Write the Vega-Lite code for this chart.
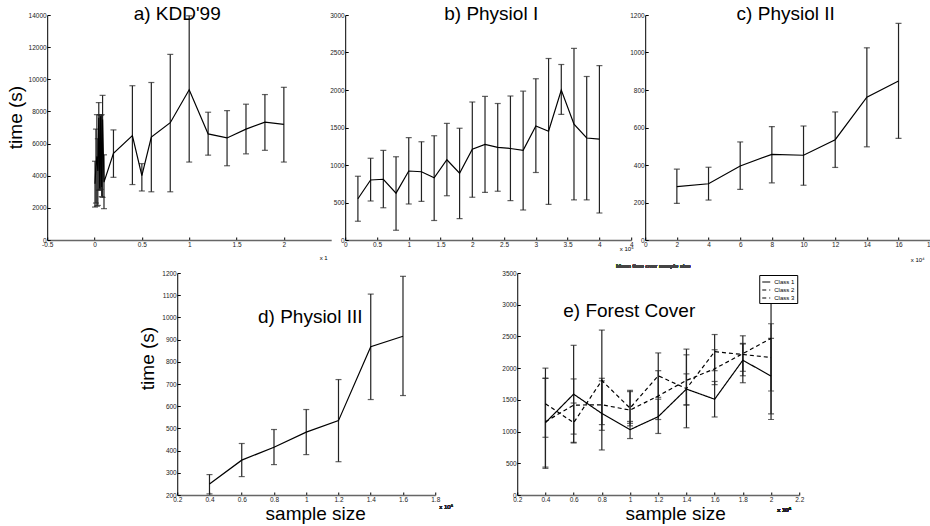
{
  "$schema": "https://vega.github.io/schema/vega-lite/v6.json",
  "background": "white",
  "padding": {"left": 6, "top": 5, "right": 0, "bottom": 0},
  "config": {
    "font": "Liberation Sans",
    "view": {"stroke": null},
    "axis": {"grid": false, "labelFontSize": 6.5, "labelColor": "#222", "tickSize": -3, "tickColor": "#000", "domainColor": "#000", "labelPadding": 4, "titleFontWeight": "normal", "titleColor": "#000", "labelFlush": false, "labelOverlap": false, "labelExpr": "'' + datum.value"},
    "axisX": {"domainColor": "#666", "domainWidth": 1.5},
    "title": {"fontSize": 19, "fontWeight": "normal", "color": "#000", "anchor": "middle"},
    "line": {"color": "#000", "strokeWidth": 1.2},
    "text": {"font": "Liberation Sans"}
  },
  "datasets": {
    "kdd": [
      {"x": 0.005, "m": 3500, "lo": 2050, "hi": 4900},
      {"x": 0.015, "m": 4600, "lo": 2300, "hi": 6900},
      {"x": 0.025, "m": 5200, "lo": 2100, "hi": 7800},
      {"x": 0.035, "m": 4300, "lo": 2150, "hi": 6300},
      {"x": 0.045, "m": 7600, "lo": 3100, "hi": 8550},
      {"x": 0.055, "m": 3200, "lo": 3100, "hi": 7800},
      {"x": 0.065, "m": 7700, "lo": 3150, "hi": 7750},
      {"x": 0.075, "m": 3300, "lo": 2700, "hi": 7800},
      {"x": 0.085, "m": 7500, "lo": 2650, "hi": 9000},
      {"x": 0.1, "m": 3600, "lo": 1950, "hi": 5300},
      {"x": 0.2, "m": 5400, "lo": 3900, "hi": 6850},
      {"x": 0.4, "m": 6500, "lo": 3450, "hi": 9600},
      {"x": 0.5, "m": 4000, "lo": 3050, "hi": 4750},
      {"x": 0.6, "m": 6400, "lo": 3000, "hi": 9800},
      {"x": 0.8, "m": 7300, "lo": 3000, "hi": 11550},
      {"x": 1.0, "m": 9350, "lo": 4850, "hi": 13950},
      {"x": 1.2, "m": 6600, "lo": 5280, "hi": 7950},
      {"x": 1.4, "m": 6350, "lo": 4620, "hi": 8050},
      {"x": 1.6, "m": 6900, "lo": 5360, "hi": 8450},
      {"x": 1.8, "m": 7330, "lo": 5580, "hi": 9050},
      {"x": 2.0, "m": 7200, "lo": 4850, "hi": 9500}
    ],
    "p1": [
      {"x": 0.2, "m": 550, "lo": 250, "hi": 850},
      {"x": 0.4, "m": 800, "lo": 520, "hi": 1090},
      {"x": 0.6, "m": 810, "lo": 430, "hi": 1195},
      {"x": 0.8, "m": 625, "lo": 130, "hi": 1110},
      {"x": 1.0, "m": 920, "lo": 480, "hi": 1365},
      {"x": 1.2, "m": 910, "lo": 515, "hi": 1310},
      {"x": 1.4, "m": 830, "lo": 260, "hi": 1390},
      {"x": 1.6, "m": 1070, "lo": 590, "hi": 1555},
      {"x": 1.8, "m": 890, "lo": 285, "hi": 1490},
      {"x": 2.0, "m": 1210, "lo": 570, "hi": 1840},
      {"x": 2.2, "m": 1275, "lo": 635, "hi": 1915},
      {"x": 2.4, "m": 1235, "lo": 650, "hi": 1820},
      {"x": 2.6, "m": 1220, "lo": 525, "hi": 1920},
      {"x": 2.8, "m": 1195, "lo": 400, "hi": 1985},
      {"x": 3.0, "m": 1520, "lo": 900, "hi": 2150},
      {"x": 3.2, "m": 1450, "lo": 475, "hi": 2420},
      {"x": 3.4, "m": 2000, "lo": 1675, "hi": 2340},
      {"x": 3.6, "m": 1545, "lo": 535, "hi": 2555},
      {"x": 3.8, "m": 1360, "lo": 535, "hi": 2180},
      {"x": 4.0, "m": 1345, "lo": 360, "hi": 2325}
    ],
    "p2": [
      {"x": 2, "m": 285, "lo": 195, "hi": 378},
      {"x": 4, "m": 300, "lo": 213, "hi": 388},
      {"x": 6, "m": 395, "lo": 270, "hi": 523},
      {"x": 8, "m": 457, "lo": 305, "hi": 605},
      {"x": 10, "m": 452, "lo": 292, "hi": 608},
      {"x": 12, "m": 535, "lo": 387, "hi": 683},
      {"x": 14, "m": 762, "lo": 497, "hi": 1025},
      {"x": 16, "m": 848, "lo": 542, "hi": 1155}
    ],
    "p3": [
      {"x": 0.4, "m": 250, "lo": 205, "hi": 292},
      {"x": 0.6, "m": 357, "lo": 283, "hi": 432},
      {"x": 0.8, "m": 415, "lo": 337, "hi": 495},
      {"x": 1.0, "m": 483, "lo": 382, "hi": 585},
      {"x": 1.2, "m": 535, "lo": 350, "hi": 720},
      {"x": 1.4, "m": 868, "lo": 630, "hi": 1105},
      {"x": 1.6, "m": 915, "lo": 648, "hi": 1185}
    ],
    "fc": [
      {"x": 0.4, "c": "Class 1", "m": 1140, "lo": 440, "hi": 1840},
      {"x": 0.6, "c": "Class 1", "m": 1590, "lo": 820, "hi": 2360},
      {"x": 0.8, "c": "Class 1", "m": 1285, "lo": 710, "hi": 1840},
      {"x": 1.0, "c": "Class 1", "m": 1030, "lo": 890, "hi": 1160},
      {"x": 1.2, "c": "Class 1", "m": 1235, "lo": 970, "hi": 1510},
      {"x": 1.4, "c": "Class 1", "m": 1670, "lo": 1060, "hi": 2300},
      {"x": 1.6, "c": "Class 1", "m": 1510, "lo": 1230, "hi": 1790},
      {"x": 1.8, "c": "Class 1", "m": 2125, "lo": 1770, "hi": 2510},
      {"x": 2.0, "c": "Class 1", "m": 1875, "lo": 1280, "hi": 2470},
      {"x": 0.4, "c": "Class 2", "m": 1440, "lo": 910, "hi": 2000},
      {"x": 0.6, "c": "Class 2", "m": 1140, "lo": 830, "hi": 1450},
      {"x": 0.8, "c": "Class 2", "m": 1805, "lo": 1020, "hi": 2600},
      {"x": 1.0, "c": "Class 2", "m": 1370, "lo": 1130, "hi": 1650},
      {"x": 1.2, "c": "Class 2", "m": 1880, "lo": 1540, "hi": 2240},
      {"x": 1.4, "c": "Class 2", "m": 1677, "lo": 1420, "hi": 1910},
      {"x": 1.6, "c": "Class 2", "m": 2260, "lo": 1960, "hi": 2530},
      {"x": 1.8, "c": "Class 2", "m": 2215, "lo": 1950, "hi": 2380},
      {"x": 2.0, "c": "Class 2", "m": 2167, "lo": 1640, "hi": 2700},
      {"x": 0.4, "c": "Class 3", "m": 1156, "lo": 420, "hi": 1840},
      {"x": 0.6, "c": "Class 3", "m": 1417, "lo": 960, "hi": 1830},
      {"x": 0.8, "c": "Class 3", "m": 1422, "lo": 1110, "hi": 1800},
      {"x": 1.0, "c": "Class 3", "m": 1339, "lo": 1090, "hi": 1630},
      {"x": 1.2, "c": "Class 3", "m": 1562, "lo": 1190, "hi": 1960},
      {"x": 1.4, "c": "Class 3", "m": 1807, "lo": 1420, "hi": 2210},
      {"x": 1.6, "c": "Class 3", "m": 1990, "lo": 1740, "hi": 2290},
      {"x": 1.8, "c": "Class 3", "m": 2229, "lo": 1880, "hi": 2390},
      {"x": 2.0, "c": "Class 3", "m": 2469, "lo": 1190, "hi": 3450}
    ]
  },
  "vconcat": [
    {
      "bounds": "flush",
      "spacing": 14,
      "hconcat": [
        {
          "width": 284, "height": 225,
          "title": {"text": "a) KDD'99", "offset": -12, "dx": -12},
          "data": {"name": "kdd"},
          "encoding": {"x": {"field": "x", "type": "quantitative", "scale": {"domain": [-0.5, 2.5], "nice": false, "zero": false},
            "axis": {"values": [-0.5, 0, 0.5, 1, 1.5, 2], "labelOverlap": false, "title": "x 1", "titleFontSize": 6, "titleAlign": "center", "titleX": 276, "titlePadding": 7}}},
          "layer": [
            {"mark": {"type": "errorbar", "ticks": {"size": 6}, "color": "#222", "thickness": 1.2},
             "encoding": {"y": {"field": "lo", "type": "quantitative", "title": "time (s)", "scale": {"domain": [0, 14000], "nice": false},
               "axis": {"values": [0, 2000, 4000, 6000, 8000, 10000, 12000, 14000], "labelOverlap": false, "titleFontSize": 19, "titlePadding": 3, "titleY": 102}}, "y2": {"field": "hi"}}},
            {"mark": "line",
             "encoding": {"y": {"field": "m", "type": "quantitative", "title": "time (s)", "scale": {"domain": [0, 14000], "nice": false},
               "axis": {"values": [0, 2000, 4000, 6000, 8000, 10000, 12000, 14000], "labelOverlap": false, "titleFontSize": 19, "titlePadding": 3, "titleY": 102}}}}
          ]
        },
        {
          "width": 286, "height": 225,
          "title": {"text": "b) Physiol I", "offset": -12, "dx": 3},
          "data": {"name": "p1"},
          "encoding": {"x": {"field": "x", "type": "quantitative", "scale": {"domain": [0, 4.5], "nice": false, "zero": false},
            "axis": {"values": [0, 0.5, 1, 1.5, 2, 2.5, 3, 3.5, 4, 4.5], "labelOverlap": false, "labelExpr": "datum.value == 4.5 ? '4' : '' + datum.value", "title": "x 10⁵", "titleFontSize": 6, "titleAlign": "center", "titleX": 281, "titlePadding": -2}}},
          "layer": [
            {"mark": {"type": "errorbar", "ticks": {"size": 6}, "color": "#222", "thickness": 1.2},
             "encoding": {"y": {"field": "lo", "type": "quantitative", "title": null, "scale": {"domain": [0, 3000], "nice": false},
               "axis": {"values": [0, 500, 1000, 1500, 2000, 2500, 3000], "labelOverlap": false}}, "y2": {"field": "hi"}}},
            {"mark": "line",
             "encoding": {"y": {"field": "m", "type": "quantitative", "title": null, "scale": {"domain": [0, 3000], "nice": false},
               "axis": {"values": [0, 500, 1000, 1500, 2000, 2500, 3000], "labelOverlap": false}}}}
          ]
        },
        {
          "width": 285, "height": 225,
          "title": {"text": "c) Physiol II", "offset": -12, "dx": -2},
          "data": {"name": "p2"},
          "encoding": {"x": {"field": "x", "type": "quantitative", "scale": {"domain": [0, 18], "nice": false, "zero": false},
            "axis": {"values": [0, 2, 4, 6, 8, 10, 12, 14, 16, 18], "labelOverlap": false, "title": "x 10⁴", "titleFontSize": 6, "titleAlign": "center", "titleX": 272, "titlePadding": 9}}},
          "layer": [
            {"mark": {"type": "errorbar", "ticks": {"size": 6}, "color": "#222", "thickness": 1.2},
             "encoding": {"y": {"field": "lo", "type": "quantitative", "title": null, "scale": {"domain": [0, 1200], "nice": false},
               "axis": {"values": [0, 200, 400, 600, 800, 1000, 1200], "labelOverlap": false}}, "y2": {"field": "hi"}}},
            {"mark": "line",
             "encoding": {"y": {"field": "m", "type": "quantitative", "title": null, "scale": {"domain": [0, 1200], "nice": false},
               "axis": {"values": [0, 200, 400, 600, 800, 1000, 1200], "labelOverlap": false}}}}
          ]
        }
      ]
    },
    {
      "bounds": "flush",
      "spacing": 82,
      "resolve": {"scale": {"strokeDash": "independent"}, "legend": {"strokeDash": "independent"}},
      "hconcat": [
        {
          "width": 258, "height": 222,
          "title": {"text": "d) Physiol III", "offset": -57, "dx": 4},
          "data": {"name": "p3"},
          "encoding": {"x": {"field": "x", "type": "quantitative", "scale": {"domain": [0.2, 1.8], "nice": false, "zero": false},
            "axis": {"values": [0.2, 0.4, 0.6, 0.8, 1, 1.2, 1.4, 1.6, 1.8], "labelOverlap": false, "title": "sample size", "titleFontSize": 19, "titlePadding": 2, "titleX": 138}}},
          "layer": [
            {"mark": {"type": "errorbar", "ticks": {"size": 6}, "color": "#222", "thickness": 1.2},
             "encoding": {"y": {"field": "lo", "type": "quantitative", "title": "time (s)", "scale": {"domain": [200, 1200], "nice": false, "zero": false},
               "axis": {"values": [200, 300, 400, 500, 600, 700, 800, 900, 1000, 1100, 1200], "labelOverlap": false, "titleFontSize": 19, "titlePadding": 4.5, "titleY": 85}}, "y2": {"field": "hi"}}},
            {"mark": "line",
             "encoding": {"y": {"field": "m", "type": "quantitative", "title": "time (s)", "scale": {"domain": [200, 1200], "nice": false, "zero": false},
               "axis": {"values": [200, 300, 400, 500, 600, 700, 800, 900, 1000, 1100, 1200], "labelOverlap": false, "titleFontSize": 19, "titlePadding": 4.5, "titleY": 85}}}},
            {"mark": {"type": "text", "fontSize": 6, "dx": 11, "dy": 12, "color": "#222"},
             "encoding": {"x": {"datum": 1.8, "type": "quantitative", "axis": {"values": [0.2, 0.4, 0.6, 0.8, 1, 1.2, 1.4, 1.6, 1.8], "labelOverlap": false, "title": "sample size", "titleFontSize": 19, "titlePadding": 2, "titleX": 138}},
               "y": {"datum": 200, "type": "quantitative", "title": "time (s)", "scale": {"domain": [200, 1200], "nice": false, "zero": false},
               "axis": {"values": [200, 300, 400, 500, 600, 700, 800, 900, 1000, 1100, 1200], "labelOverlap": false, "titleFontSize": 19, "titlePadding": 4.5, "titleY": 85}},
               "text": {"value": "x 10⁵"}}}
          ]
        },
        {
          "width": 282, "height": 222,
          "title": {"text": "e) Forest Cover", "offset": -58, "dx": -29},
          "data": {"name": "fc"},
          "encoding": {"x": {"field": "x", "type": "quantitative", "scale": {"domain": [0.2, 2.2], "nice": false, "zero": false},
            "axis": {"values": [0.2, 0.4, 0.6, 0.8, 1, 1.2, 1.4, 1.6, 1.8, 2, 2.2], "labelOverlap": false, "title": "sample size", "titleFontSize": 19, "titlePadding": 2, "titleX": 158}}},
          "layer": [
            {"mark": {"type": "errorbar", "ticks": {"size": 6}, "color": "#222", "thickness": 1.2},
             "encoding": {"y": {"field": "lo", "type": "quantitative", "title": null, "scale": {"domain": [0, 3500], "nice": false},
               "axis": {"values": [0, 500, 1000, 1500, 2000, 2500, 3000, 3500], "labelOverlap": false}}, "y2": {"field": "hi"}}},
            {"mark": "line",
             "encoding": {"y": {"field": "m", "type": "quantitative", "title": null, "scale": {"domain": [0, 3500], "nice": false},
               "axis": {"values": [0, 500, 1000, 1500, 2000, 2500, 3000, 3500], "labelOverlap": false}},
               "strokeDash": {"field": "c", "type": "nominal", "scale": {"domain": ["Class 1", "Class 2", "Class 3"], "range": [[1, 0], [4, 3], [4, 3]]},
                 "legend": {"orient": "top-right", "offset": 2, "title": null, "strokeColor": "#000", "fillColor": "white", "padding": 2, "labelFontSize": 6, "labelColor": "#000", "symbolType": "stroke", "symbolSize": 64, "symbolStrokeWidth": 1.2, "symbolStrokeColor": "#000", "rowPadding": -2, "labelOffset": 3}}}},
            {"mark": {"type": "text", "fontSize": 6, "dx": -15, "dy": 15, "color": "#222"},
             "encoding": {"x": {"datum": 2.2, "type": "quantitative", "axis": {"values": [0.2, 0.4, 0.6, 0.8, 1, 1.2, 1.4, 1.6, 1.8, 2, 2.2], "labelOverlap": false, "title": "sample size", "titleFontSize": 19, "titlePadding": 2, "titleX": 158}},
               "y": {"datum": 0, "type": "quantitative", "title": null, "scale": {"domain": [0, 3500], "nice": false}, "axis": {"values": [0, 500, 1000, 1500, 2000, 2500, 3000, 3500], "labelOverlap": false}},
               "text": {"value": "x 10⁵"}}},
            {"mark": {"type": "text", "fontSize": 6, "dx": -5, "dy": -7, "color": "#444"},
             "encoding": {"x": {"datum": 1.2, "type": "quantitative", "axis": {"values": [0.2, 0.4, 0.6, 0.8, 1, 1.2, 1.4, 1.6, 1.8, 2, 2.2], "labelOverlap": false, "title": "sample size", "titleFontSize": 19, "titlePadding": 2, "titleX": 158}},
               "y": {"datum": 3500, "type": "quantitative", "title": null, "scale": {"domain": [0, 3500], "nice": false}, "axis": {"values": [0, 500, 1000, 1500, 2000, 2500, 3000, 3500], "labelOverlap": false}},
               "text": {"value": "Mean time over sample size"}}}
          ]
        }
      ]
    }
  ],
  "resolve": {"scale": {"strokeDash": "independent"}, "legend": {"strokeDash": "independent"}},
  "spacing": 0,
  "center": true
}
